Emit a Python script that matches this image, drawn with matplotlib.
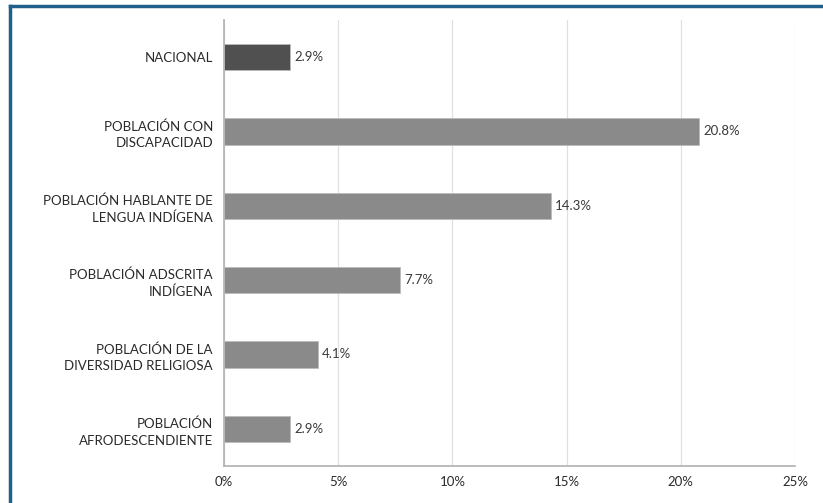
import matplotlib.pyplot as plt
from matplotlib.lines import Line2D

categorias = [
    "NACIONAL",
    "POBLACIÓN CON\nDISCAPACIDAD",
    "POBLACIÓN HABLANTE DE\nLENGUA INDÍGENA",
    "POBLACIÓN ADSCRITA\nINDÍGENA",
    "POBLACIÓN DE LA\nDIVERSIDAD RELIGIOSA",
    "POBLACIÓN\nAFRODESCENDIENTE",
]
valores = [2.9, 20.8, 14.3, 7.7, 4.1, 2.9]
colores = ["#505050", "#8a8a8a", "#8a8a8a", "#8a8a8a", "#8a8a8a", "#8a8a8a"]
ticks_x = [0, 5, 10, 15, 20, 25]

plt.rcParams["font.family"] = ["Lato", "DejaVu Sans"]

fig = plt.figure(figsize=(8.23, 5.03), dpi=100)
ax = fig.add_axes([224 / 823, 1 - 466 / 503, (795 - 224) / 823, (466 - 20) / 503])

pos = list(range(len(categorias)))
ax.barh(pos, valores, height=0.35, color=colores, edgecolor="#bbbbbb", linewidth=0.6, zorder=3)

for y, v in zip(pos, valores):
    ax.text(v + 0.2, y, f"{v}%", va="center", ha="left", fontsize=9.5, color="#3a3a3a")

ax.set_ylim(len(categorias) - 0.5, -0.5)
ax.set_xlim(0, 25)
ax.set_yticks(pos)
ax.set_yticklabels(categorias, fontsize=9.5, color="#2a2a2a", linespacing=1.45)
ax.set_xticks(ticks_x)
ax.set_xticklabels([f"{t}%" for t in ticks_x], fontsize=9.5, color="#2a2a2a")
ax.tick_params(axis="y", length=0, pad=8)
ax.tick_params(axis="x", length=0, pad=7)

ax.grid(axis="x", color="#e0e0e0", linewidth=0.9, zorder=0)
for s in ["top", "right"]:
    ax.spines[s].set_visible(False)
for s in ["left", "bottom"]:
    ax.spines[s].set_color("#b0b0b0")
    ax.spines[s].set_linewidth(1.2)

# marco azul arriba y a la izquierda
fig.add_artist(Line2D([10 / 823, 1], [1 - 6 / 503, 1 - 6 / 503], transform=fig.transFigure, color="#1f5f8b", linewidth=2.5))
fig.add_artist(Line2D([10 / 823, 10 / 823], [0, 1 - 6 / 503], transform=fig.transFigure, color="#1f5f8b", linewidth=2.5))

fig.savefig("out.png", dpi=100)
